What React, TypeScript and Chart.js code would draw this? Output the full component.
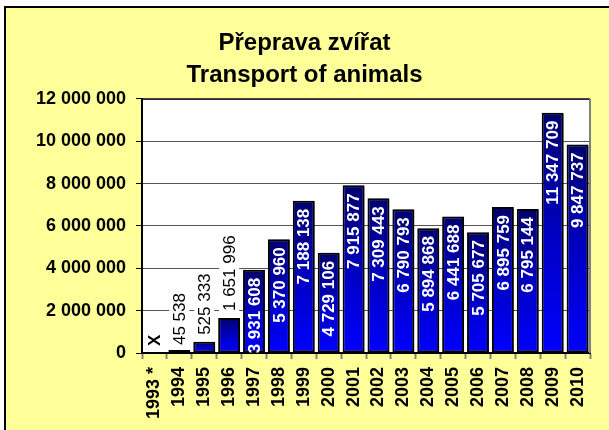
import React, { useEffect, useRef } from "react";
import { Chart, registerables } from "chart.js";

Chart.register(...registerables);

const categories = ["1993 *", "1994", "1995", "1996", "1997", "1998", "1999", "2000", "2001", "2002", "2003", "2004", "2005", "2006", "2007", "2008", "2009", "2010"];
const values: (number | null)[] = [null, 45538, 525333, 1651996, 3931608, 5370960, 7188138, 4729106, 7915877, 7309443, 6790793, 5894868, 6441688, 5705677, 6895759, 6795144, 11347709, 9847737];
const missingLabel = "X";
const titleLines = ["Přeprava zvířat", "Transport of animals"];
const yMin = 0;
const yMax = 12000000;
const yStep = 2000000;

const FONT = "'Liberation Sans', Arial, sans-serif";

const fmt = (n: number) => Math.round(n).toString().replace(/\B(?=(\d{3})+(?!\d))/g, " ");

const plotFrame = {
  id: "plotFrame",
  beforeDraw(chart: any) {
    const { ctx, chartArea: a } = chart;
    ctx.save();
    ctx.fillStyle = "#ffffff";
    ctx.fillRect(a.left, a.top, a.right - a.left, a.bottom - a.top);
    ctx.restore();
  },
  beforeDatasetsDraw(chart: any) {
    const { ctx, chartArea: a } = chart;
    ctx.save();
    ctx.strokeStyle = "#000000";
    ctx.lineWidth = 1;
    ctx.beginPath();
    ctx.moveTo(a.left, a.top + 0.5);
    ctx.lineTo(a.right, a.top + 0.5);
    ctx.stroke();
    ctx.strokeStyle = "#808080";
    ctx.lineWidth = 2;
    ctx.beginPath();
    ctx.moveTo(a.right, a.top);
    ctx.lineTo(a.right, a.bottom);
    ctx.stroke();
    ctx.restore();
    ctx.save();
    ctx.shadowColor = "rgba(0,0,0,0.45)";
    ctx.shadowOffsetX = 2;
    ctx.shadowOffsetY = 1;
    ctx.shadowBlur = 2;
  },
  afterDatasetsDraw(chart: any) {
    const { ctx } = chart;
    ctx.restore();
    const xs = chart.scales.x;
    const ys = chart.scales.y;
    const base = ys.getPixelForValue(0);
    ctx.save();
    values.forEach((v, i) => {
      const cx = xs.getPixelForValue(i);
      const label = v == null ? missingLabel : fmt(v);
      const top = v == null ? base : ys.getPixelForValue(v);
      const barH = base - top;
      ctx.font = `bold 17px ${FONT}`;
      const wIn = ctx.measureText(label).width;
      if (v != null && barH >= wIn + 6) {
        ctx.save();
        ctx.translate(cx, top + 8);
        ctx.rotate(-Math.PI / 2);
        ctx.fillStyle = "#ffffff";
        ctx.textAlign = "right";
        ctx.textBaseline = "middle";
        ctx.fillText(label, 0, 1);
        ctx.restore();
      } else {
        ctx.font = v == null ? `bold 17px ${FONT}` : `17px ${FONT}`;
        const w = ctx.measureText(label).width;
        const anchor = top - 7;
        ctx.fillStyle = "#ffffff";
        ctx.fillRect(cx - 10, anchor - w - 2, 20, w + 4);
        ctx.save();
        ctx.translate(cx, anchor);
        ctx.rotate(-Math.PI / 2);
        ctx.fillStyle = "#000000";
        ctx.textAlign = "left";
        ctx.textBaseline = "middle";
        ctx.fillText(label, 0, 1);
        ctx.restore();
      }
    });
    ctx.restore();
  },
};

export default function App() {
  const ref = useRef<HTMLCanvasElement | null>(null);
  useEffect(() => {
    if (!ref.current) return;
    const chart = new Chart(ref.current, {
      type: "bar",
      data: {
        labels: categories,
        datasets: [
          {
            data: values,
            backgroundColor: (c: any) => {
              const chart = c.chart;
              const ys = chart.scales && chart.scales.y;
              if (!ys || c.raw == null) return "#0000ff";
              const top = ys.getPixelForValue(c.raw);
              const base = ys.getPixelForValue(0);
              if (!isFinite(top) || !isFinite(base) || base - top < 1) return "#000000";
              const g = chart.ctx.createLinearGradient(0, top, 0, base);
              g.addColorStop(0, "#000070");
              g.addColorStop(0.55, "#0000c8");
              g.addColorStop(1, "#0000ff");
              return g;
            },
            borderColor: "#000000",
            borderWidth: 2,
            borderSkipped: false,
            minBarLength: 3,
            barPercentage: 0.88,
            categoryPercentage: 1,
          },
        ],
      },
      options: {
        responsive: false,
        animation: false,
        devicePixelRatio: 1,
        layout: { padding: { left: 0, right: 0, top: 0, bottom: 0 } },
        plugins: {
          legend: { display: false },
          tooltip: { enabled: false },
          title: {
            display: true,
            text: titleLines,
            color: "#000000",
            font: { family: FONT, size: 24, weight: "bold", lineHeight: 1.33 },
            padding: { top: 27, bottom: 8 },
          },
        },
        scales: {
          x: {
            grid: {
              display: true,
              drawOnChartArea: false,
              drawTicks: true,
              tickLength: 6,
              tickColor: "#808080",
              tickWidth: 2,
              offset: true,
            },
            border: { display: true, color: "#000000", width: 2 },
            ticks: {
              color: "#000000",
              font: { family: FONT, size: 18, weight: "bold" },
              minRotation: 90,
              maxRotation: 90,
              autoSkip: false,
              padding: 8,
            },
            afterFit: (s: any) => {
              s.height = 77;
            },
          },
          y: {
            min: yMin,
            max: yMax,
            grid: {
              color: "#555555",
              lineWidth: 1,
              tickLength: 6,
              tickColor: "#000000",
            },
            border: { display: true, color: "#000000", width: 2 },
            ticks: {
              stepSize: yStep,
              color: "#000000",
              font: { family: FONT, size: 18, weight: "bold" },
              padding: 10,
              callback: (v: any) => fmt(Number(v)),
            },
            afterFit: (s: any) => {
              s.width = 142;
            },
          },
          yRight: {
            position: "right",
            display: true,
            min: yMin,
            max: yMax,
            grid: { display: false, drawOnChartArea: false, drawTicks: false },
            border: { display: false },
            ticks: { display: false },
            afterFit: (s: any) => {
              s.width = 19;
            },
          },
        },
      },
      plugins: [plotFrame],
    });
    return () => chart.destroy();
  }, []);

  return (
    <div style={{ position: "absolute", left: 0, top: 0, width: 609, height: 430, background: "#ffffff", overflow: "hidden" }}>
      <div
        style={{
          position: "absolute",
          left: 4,
          top: 6,
          width: 605,
          height: 424,
          boxSizing: "border-box",
          background: "#ffff99",
          borderLeft: "2px solid #000000",
          borderTop: "2px solid #000000",
        }}
      />
      <canvas ref={ref} width={609} height={430} style={{ position: "absolute", left: 0, top: 0, width: 609, height: 430 }} />
    </div>
  );
}
